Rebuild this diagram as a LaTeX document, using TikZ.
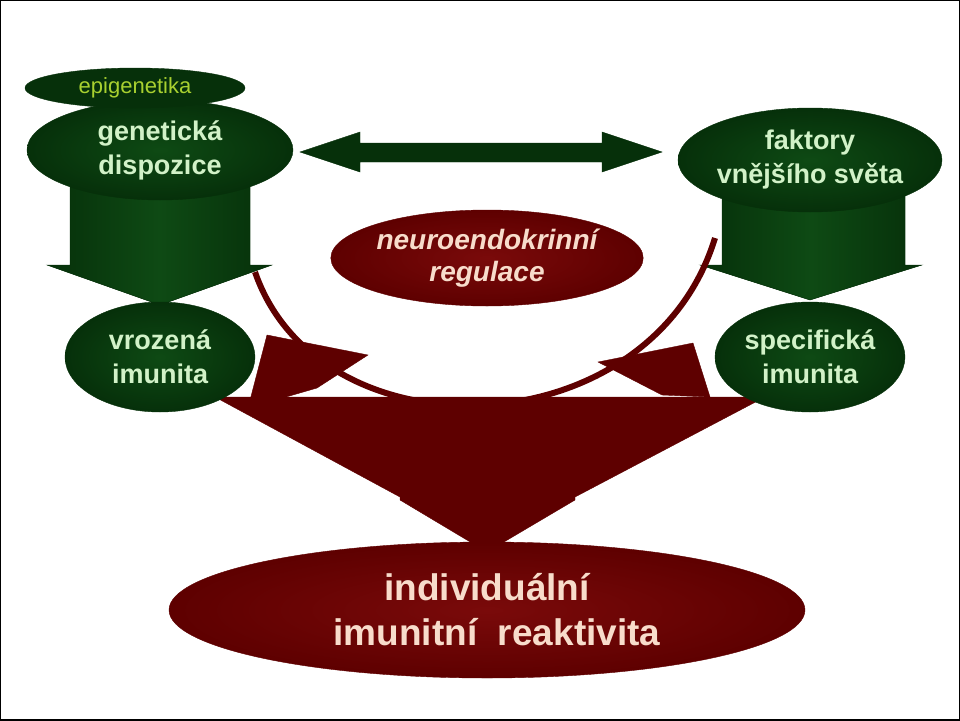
\documentclass[tikz,border=0pt]{standalone}
\usepackage{fontspec}
\setmainfont{Liberation Sans}
\usetikzlibrary{shapes.geometric}
\definecolor{dg}{HTML}{06300A}
\definecolor{dgl}{HTML}{0E4A14}
\definecolor{dr}{HTML}{5E0000}
\definecolor{drl}{HTML}{7A0A0A}
\definecolor{gtxt}{HTML}{D2F2C8}
\definecolor{rtxt}{HTML}{F8DCCB}
\definecolor{epi}{HTML}{A8D030}
\tikzset{
 gell/.style={ellipse,inner color=dgl,outer color=dg,draw=dg,font=\fontsize{27}{34}\selectfont\bfseries,text=gtxt,align=center,inner sep=0pt},
 rell/.style={ellipse,inner color=drl,outer color=dr,draw=dr,text=rtxt,align=center,inner sep=0pt},
 garrow/.style={fill=dg,draw=dg},
 rarrow/.style={fill=dr,draw=dr},
}
\begin{document}
\begin{tikzpicture}[x=1pt,y=-1pt]
\useasboundingbox (0,0) rectangle (960,720);
\draw[black,line width=1.5] (0,0) rectangle (960,720);
% green down arrows
\fill[garrow,left color=dg,right color=dg,middle color=dgl] (70,185) -- (250,185) -- (250,265) -- (272,265) -- (160,305) -- (47,265) -- (70,265) -- cycle;
\fill[garrow,left color=dg,right color=dg,middle color=dgl] (722,195) -- (905,195) -- (905,265) -- (922,265) -- (810,300) -- (700,265) -- (722,265) -- cycle;
% curved crescent
\draw[dr,line width=6] (255,272) .. controls (320,460) and (650,450) .. (715,238);
% big red converging arrow
\fill[rarrow] (215,397) -- (765,397) -- (575,497) -- (575,500) -- (487,552) -- (400,500) -- (400,497) -- cycle;
% curved arrow heads
\fill[rarrow] (267,335) -- (368,355) -- (317,388) -- (248,408) -- cycle;
\fill[rarrow] (598,362) -- (693,343) -- (710,397) -- (662,395) -- cycle;
% double arrow
\fill[garrow] (300,152) -- (360,132) -- (360,143) -- (602,143) -- (602,132) -- (662,152) -- (602,172) -- (602,162) -- (360,162) -- (360,172) -- cycle;
% nodes
\node[gell,minimum width=266,minimum height=100] (gen) at (160,150) {genetická\\dispozice};
\node[ellipse,fill=dg,draw=dg,minimum width=220,minimum height=40,inner sep=0pt,text=epi,font=\fontsize{22}{24}\selectfont] (epi) at (135,88) {epigenetika};
\node[gell,minimum width=190,minimum height=110] (vro) at (160,357) {vrozená\\imunita};
\node[gell,minimum width=264,minimum height=104] (fak) at (810,160) {faktory\\vnějšího světa};
\node[gell,minimum width=190,minimum height=110] (spe) at (810,357) {specifická\\imunita};
\node[rell,minimum width=250,minimum height=96,font=\fontsize{28}{32}\selectfont\bfseries\itshape] (neu) at (487,258) {neuroendokrinní\\regulace};
\node[rell,minimum width=636,minimum height=136,font=\fontsize{37}{45}\selectfont\bfseries] (ind) at (487,610) {individuální\\\hspace*{20pt}imunitní\ \ reaktivita};
\end{tikzpicture}
\end{document}
